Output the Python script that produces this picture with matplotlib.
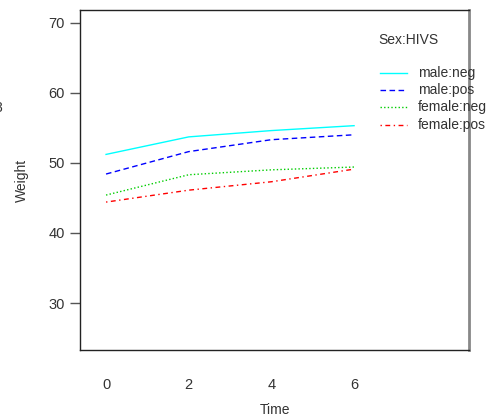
import matplotlib
matplotlib.use("Agg")
import matplotlib.pyplot as plt
from matplotlib.lines import Line2D

plt.rcParams['font.family'] = ['Liberation Sans', 'DejaVu Sans']

# Mean weight over time for each Sex:HIV-status group
time = [0, 2, 4, 6]
groups = ["male:neg", "male:pos", "female:neg", "female:pos"]
male_neg = [51.2, 53.7, 54.6, 55.3]
male_pos = [48.4, 51.6, 53.3, 54.0]
female_neg = [45.4, 48.3, 49.0, 49.4]
female_pos = [44.4, 46.1, 47.3, 49.1]
series = [male_neg, male_pos, female_neg, female_pos]

x_ticks = [0, 2, 4, 6]
y_ticks = [30, 40, 50, 60, 70]

colors = ["#00FFFF", "#0000FF", "#00CD00", "#FF0000"]
styles = ["-", (0, (4, 2.5)), (0, (1, 1.6)), (0, (1, 2.5, 3.5, 2.5))]
lw = 1.0

W, H = 494, 420
fig = plt.figure(figsize=(W / 100, H / 100), dpi=100)
left, right, top, bottom = 80, 469, 10, 350
ax = fig.add_axes([left / W, 1 - bottom / H, (right - left) / W, (bottom - top) / H])

for vals, c, ls in zip(series, colors, styles):
    ax.plot(time, vals, color=c, linestyle=ls, linewidth=lw)

ax.set_xlim(-0.63, 8.78)
ax.set_ylim(23.3, 71.8)
ax.set_xticks(x_ticks)
ax.set_yticks(y_ticks)
ax.set_xticklabels([str(v) for v in x_ticks])
ax.set_yticklabels([str(v) for v in y_ticks])

txt = "#333333"
ax.tick_params(axis='x', length=0, pad=20, labelsize=10.5, labelcolor=txt)
ax.tick_params(axis='y', length=7, width=1, color="#555555", pad=4,
               labelsize=10.5, labelcolor=txt)

for s in ["top", "bottom", "left"]:
    ax.spines[s].set_color("#222222")
    ax.spines[s].set_linewidth(1.0)
ax.spines["right"].set_color("#888888")
ax.spines["right"].set_linewidth(2.0)

# Axis titles placed in figure pixels
fig.text(275 / W, 1 - 410 / H, "Time", fontsize=10, color=txt,
         ha="center", va="center")
fig.text(22 / W, 1 - 180 / H, "Weight", fontsize=10, color=txt,
         ha="center", va="center", rotation=90)

# Legend drawn manually
fig.text(378 / W, 1 - 40 / H, "Sex:HIVS", fontsize=10, color=txt,
         ha="left", va="center")
rows = [73, 90, 107, 125]
for name, c, ls, yy in zip(groups, colors, styles, rows):
    fy = 1 - yy / H
    fig.add_artist(Line2D([380 / W, 407 / W], [fy, fy], color=c,
                          linestyle=ls, linewidth=lw))
    fig.text(418 / W, fy, name, fontsize=10, color=txt,
             ha="left", va="center")

fig.text(-6 / W, 1 - 108 / H, "8", fontsize=10, color=txt,
         ha="left", va="center")

fig.savefig("out.png", dpi=100)
